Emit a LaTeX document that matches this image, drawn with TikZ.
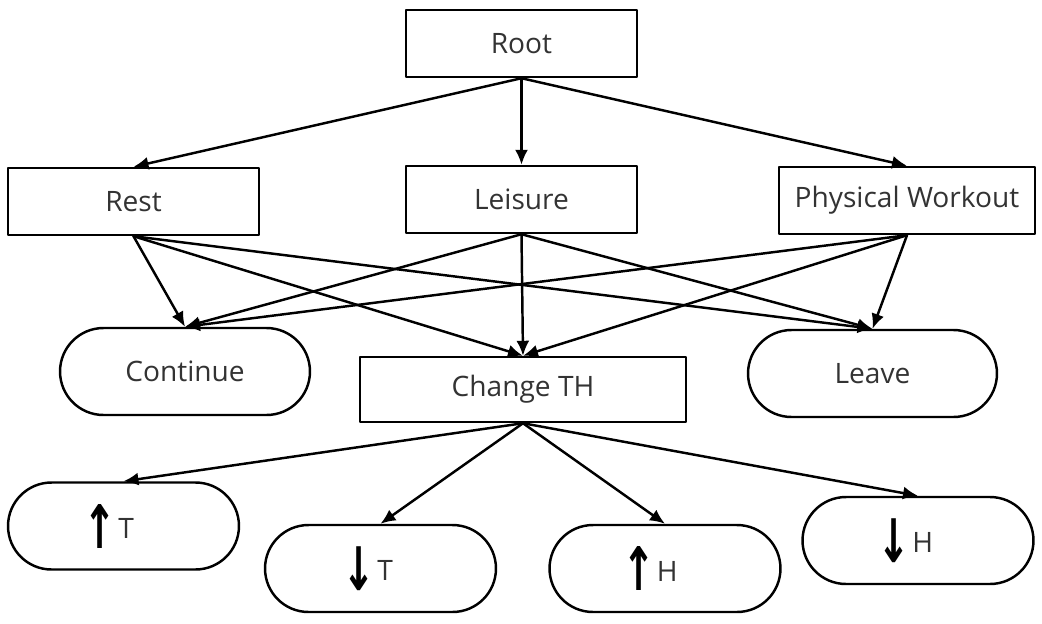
\documentclass[tikz,border=0pt]{standalone}
\usepackage{fontspec}
\usepackage{graphicx}
\setmainfont{Open Sans}
\newfontfamily\arrowfont{DejaVu Sans}
\usetikzlibrary{arrows.meta}
\definecolor{txtgray}{rgb}{0.2,0.2,0.2}
\tikzset{
  box/.style={draw,line width=1.4pt,inner sep=0pt,minimum height=1.34cm,
    text=txtgray,font=\fontsize{16}{19}\selectfont},
  pill/.style={box,minimum height=1.74cm,minimum width=4.62cm,rounded corners=0.87cm},
  link/.style={->,line width=1.4pt}
}
\newcommand{\dirsym}[1]{\raisebox{-0.19cm}{\resizebox*{0.66cm}{0.88cm}{\color{black}\arrowfont\bfseries\char"#1}}}
\newcommand{\upsym}{\dirsym{2191}}
\newcommand{\downsym}{\dirsym{2193}}

\begin{document}
\begin{tikzpicture}[line cap=round,line join=round,>={Latex[length=0.3cm,width=0.26cm]},x=0.02cm,y=-0.02cm]
\useasboundingbox (0,0) rectangle (1042,623);
% first level
\node[box,minimum width=4.62cm] (root) at (521.5,43.5) {Root};
\node[box,minimum width=5.02cm] (rest) at (133.5,201.5) {Rest};
\node[box,minimum width=4.62cm] (leisure) at (521.5,199.5) {Leisure};
\node[box,minimum width=5.12cm] (workout) at (907,200.5) {Physical Workout};
% outcomes
\node[pill,minimum width=5.0cm] (continue) at (185,371.5) {Continue};
\node[box,minimum width=6.52cm,minimum height=1.3cm] (change) at (523,389.5) {Change TH};
\node[pill,minimum width=4.98cm] (leave) at (872.5,373.5) {Leave};
% change of T and H
\node[pill] (tup) at (123.5,526) {\upsym\hspace{0.03cm}T\hspace{0.58cm}\null};
\node[pill] (tdown) at (380.5,568.5) {\downsym\hspace{0.03cm}T\hspace{0.5cm}\null};
\node[pill] (hup) at (665,568.5) {\upsym\hspace{0.03cm}H\hspace{0.6cm}\null};
\node[pill] (hdown) at (918,540.5) {\downsym\hspace{0.03cm}H\hspace{0.5cm}\null};
\draw[link] (root.south) -- (rest.north);
\draw[link] (root.south) -- (leisure.north);
\draw[link] (root.south) -- (workout.north);
\foreach \src in {rest,leisure,workout}{
  \draw[link] (\src.south) -- (continue.north);
  \draw[link] (\src.south) -- (change.north);
  \draw[link] (\src.south) -- (leave.north);
}
\draw[link] (change.south) -- (tup.north);
\draw[link] (change.south) -- (tdown.north);
\draw[link] (change.south) -- (hup.north);
\draw[link] (change.south) -- (hdown.north);
\end{tikzpicture}
\end{document}
